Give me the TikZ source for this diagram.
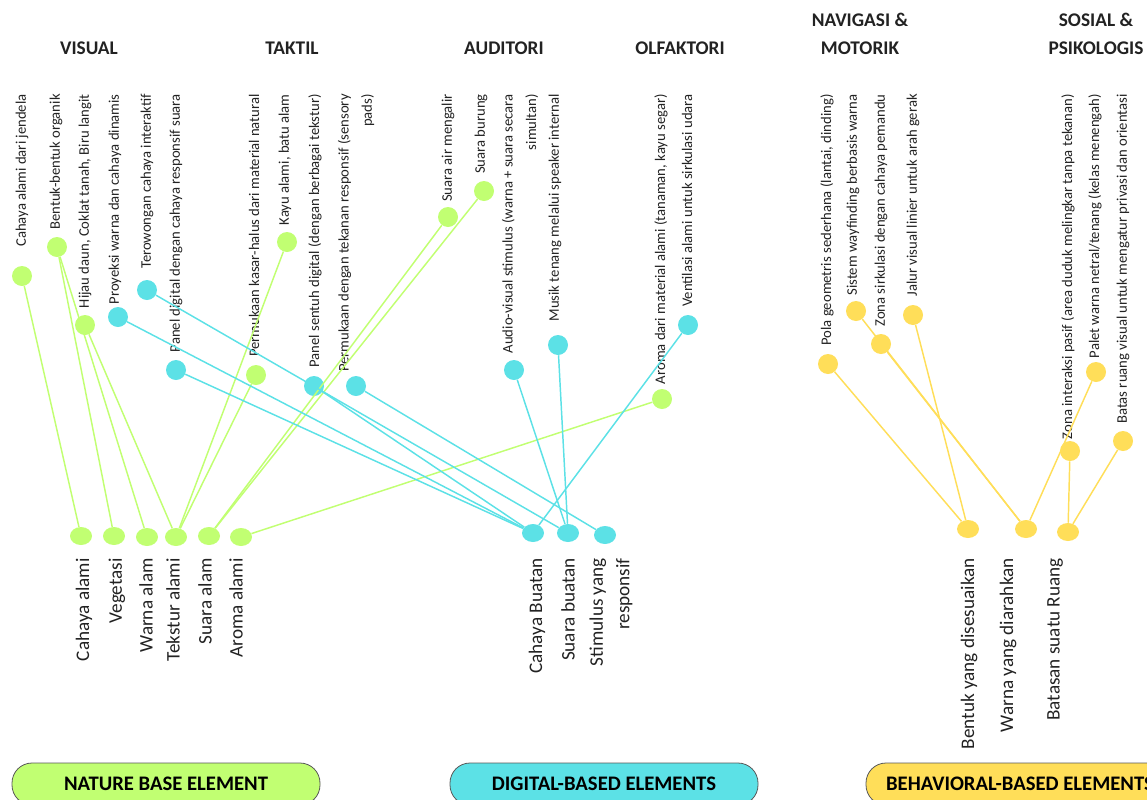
\documentclass[tikz,border=0pt]{standalone}
\usepackage{fontspec}
\setmainfont{Carlito}
\usetikzlibrary{shapes.geometric}
\definecolor{natgreen}{HTML}{C1FF72}
\definecolor{digcyan}{HTML}{5CE1E6}
\definecolor{behyellow}{HTML}{FFDE59}
\definecolor{ink}{HTML}{222222}

\begin{document}
\begin{tikzpicture}[x=0.75pt,y=-0.75pt,
    topdot/.style={circle,fill=#1,inner sep=0pt,minimum size=15pt},
    botdot/.style={ellipse,fill=#1,inner sep=0pt,minimum width=16.5pt,minimum height=13.5pt},
    toptext/.style={rotate=90,anchor=east,align=right,inner sep=0pt,text=ink,
      font=\fontsize{11}{17.5}\selectfont},
    bottext/.style={rotate=90,anchor=east,align=right,inner sep=0pt,text=ink,
      font=\fontsize{14.4}{20}\selectfont},
    heading/.style={align=center,text=ink,font=\bfseries\fontsize{14.5}{21}\selectfont},
    pill/.style={draw=black!65,line width=0.6pt,rounded corners=15pt,
      minimum width=231pt,minimum height=31.5pt,text=black,
      font=\bfseries\fontsize{15.5}{16}\selectfont},
    link/.style={line width=1.1pt,draw=#1}]
  \useasboundingbox (0,0) rectangle (1147,800);
  \clip (0,0) rectangle (1147,800);

  % headings
  \node[heading] (hvis) at (89,48) {VISUAL};
  \node[heading] (htak) at (292,48) {TAKTIL};
  \node[heading] (haud) at (504,48) {AUDITORI};
  \node[heading] (holf) at (680,48) {OLFAKTORI};
  \node[heading] (hnav) at (860,34) {NAVIGASI \&\\MOTORIK};
  \node[heading] (hsos) at (1096,34) {SOSIAL \&\\PSIKOLOGIS};

  % top labels
  \node[toptext] at (22,94) {Cahaya alami dari jendela};
  \node[toptext] at (56,94) {Bentuk-bentuk organik};
  \node[toptext] at (85,94) {Hijau daun, Coklat tanah, Biru langit};
  \node[toptext] at (115,94) {Proyeksi warna dan cahaya dinamis};
  \node[toptext] at (147,94) {Terowongan cahaya interaktif};
  \node[toptext] at (176,94) {Panel digital dengan cahaya responsif suara};
  \node[toptext] at (254,94) {Permukaan kasar-halus dari material natural};
  \node[toptext] at (285,94) {Kayu alami, batu alam};
  \node[toptext] at (315,94) {Panel sentuh digital (dengan berbagai tekstur)};
  \node[toptext] at (356,94) {Permukaan dengan tekanan responsif (sensory\\pads)};
  \node[toptext] at (448,94) {Suara air mengalir};
  \node[toptext] at (481,94) {Suara burung};
  \node[toptext] at (520,94) {Audio-visual stimulus (warna + suara secara\\simultan)};
  \node[toptext] at (555,94) {Musik tenang melalui speaker internal};
  \node[toptext] at (661,94) {Aroma dari material alami (tanaman, kayu segar)};
  \node[toptext] at (687,94) {Ventilasi alami untuk sirkulasi udara};
  \node[toptext] at (827,94) {Pola geometris sederhana (lantai, dinding)};
  \node[toptext] at (853,94) {Sistem wayfinding berbasis warna};
  \node[toptext] at (881,94) {Zona sirkulasi dengan cahaya pemandu};
  \node[toptext] at (913,94) {Jalur visual linier untuk arah gerak};
  \node[toptext] at (1068,94) {Zona interaksi pasif (area duduk melingkar tanpa tekanan)};
  \node[toptext] at (1095,94) {Palet warna netral/tenang (kelas menengah)};
  \node[toptext] at (1123,94) {Batas ruang visual untuk mengatur privasi dan orientasi};

  % bottom labels
  \node[bottext] at (84,558) {Cahaya alami};
  \node[bottext] at (117,558) {Vegetasi};
  \node[bottext] at (146,558) {Warna alam};
  \node[bottext] at (173,558) {Tekstur alami};
  \node[bottext] at (205,558) {Suara alam};
  \node[bottext] at (236,558) {Aroma alami};
  \node[bottext] at (537,558) {Cahaya Buatan};
  \node[bottext] at (568,558) {Suara buatan};
  \node[bottext] at (611,558) {Stimulus yang\\responsif};
  \node[bottext] at (969,558) {Bentuk yang disesuaikan};
  \node[bottext] at (1008,558) {Warna yang diarahkan};
  \node[bottext] at (1055,558) {Batasan suatu Ruang};

  % top dots
  \node[topdot=natgreen] (gA) at (22,276) {};
  \node[topdot=natgreen] (gB) at (57,247) {};
  \node[topdot=natgreen] (gC) at (85,325) {};
  \node[topdot=natgreen] (gD) at (256,375) {};
  \node[topdot=natgreen] (gE) at (287,242) {};
  \node[topdot=natgreen] (gF) at (448,217) {};
  \node[topdot=natgreen] (gG) at (484,191) {};
  \node[topdot=natgreen] (gH) at (662,399) {};
  \node[topdot=digcyan] (cA) at (118,317) {};
  \node[topdot=digcyan] (cB) at (147,290) {};
  \node[topdot=digcyan] (cC) at (176,370) {};
  \node[topdot=digcyan] (cD) at (314,386) {};
  \node[topdot=digcyan] (cE) at (356,386) {};
  \node[topdot=digcyan] (cF) at (514,370) {};
  \node[topdot=digcyan] (cG) at (558,345) {};
  \node[topdot=digcyan] (cH) at (688,325) {};
  \node[topdot=behyellow] (yA) at (828,364) {};
  \node[topdot=behyellow] (yB) at (856,311) {};
  \node[topdot=behyellow] (yC) at (881,344) {};
  \node[topdot=behyellow] (yD) at (913,315) {};
  \node[topdot=behyellow] (yE) at (1070,451) {};
  \node[topdot=behyellow] (yF) at (1096,372) {};
  \node[topdot=behyellow] (yG) at (1123,441) {};

  % bottom dots
  \node[botdot=natgreen] (nA) at (81,536) {};
  \node[botdot=natgreen] (nB) at (114,536) {};
  \node[botdot=natgreen] (nC) at (147,537) {};
  \node[botdot=natgreen] (nD) at (176,537) {};
  \node[botdot=natgreen] (nE) at (209,536) {};
  \node[botdot=natgreen] (nF) at (241,537) {};
  \node[botdot=digcyan] (dA) at (533,533) {};
  \node[botdot=digcyan] (dB) at (568,533) {};
  \node[botdot=digcyan] (dC) at (605,535) {};
  \node[botdot=behyellow] (bA) at (968,529) {};
  \node[botdot=behyellow] (bB) at (1026,529) {};
  \node[botdot=behyellow] (bC) at (1068,532) {};

  % links
  \foreach \a/\b in {gA/nA,gB/nB,gB/nC,gC/nD,gD/nD,gE/nD,gF/nE,gG/nE,gH/nF}
    \draw[link=natgreen] (\a) -- (\b);
  \foreach \a/\b in {cA/dA,cB/dB,cC/dA,cD/dA,cE/dC,cF/dB,cG/dB,cH/dA}
    \draw[link=digcyan] (\a) -- (\b);
  \foreach \a/\b in {yA/bA,yD/bA,yB/bB,yC/bB,yF/bB,yE/bC,yG/bC}
    \draw[link=behyellow] (\a) -- (\b);

  % category pills
  \node[pill,fill=natgreen] (pnat) at (166,784) {NATURE BASE ELEMENT};
  \node[pill,fill=digcyan] (pdig) at (604,784) {DIGITAL-BASED ELEMENTS};
  \node[pill,fill=behyellow] (pbeh) at (1020,784) {BEHAVIORAL-BASED ELEMENTS};
\end{tikzpicture}
\end{document}
